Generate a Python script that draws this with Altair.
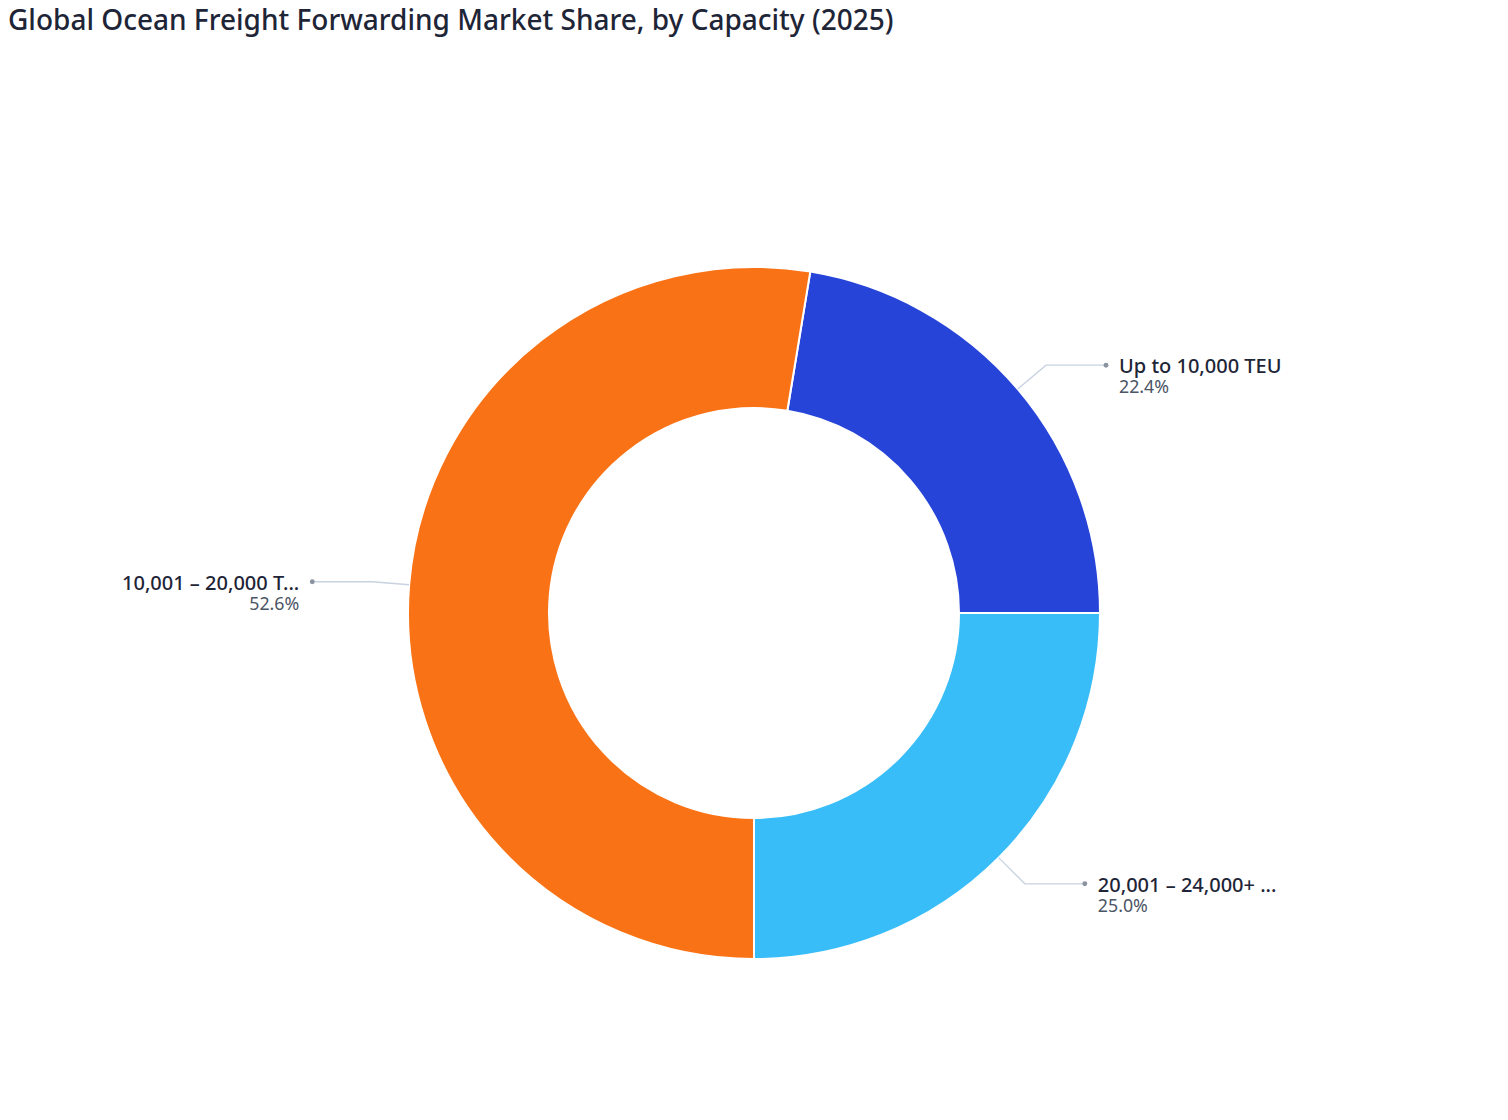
import math
import altair as alt
import numpy as np
import pandas as pd

# ---- data ----
categories = ["Up to 10,000 TEU", "10,001 – 20,000 TEU", "20,001 – 24,000+ TEU"]
shares = [22.4, 52.6, 25.0]
colors = ["#2744d9", "#f97316", "#38bdf8"]
clockwise_order = [3, 2, 1]  # drawing order clockwise starting at 3 o'clock
title_text = "Global Ocean Freight Forwarding Market Share, by Capacity (2025)"

# ---- geometry / style ----
FONT = "Noto Sans"
W, H = 1492, 1070
TITLE_H = 31
CY = 604 - TITLE_H          # plot-y of the donut centre
OUTER, INNER = 346, 205
ELBOW_R = 383
ARM = 60
TEXT_GAP = 13

df = pd.DataFrame({"category": categories, "share": shares, "ord": clockwise_order})
df["cx"] = 0.0
df["cy"] = 0.0
df["pct"] = [f"{s:.1f}%" for s in shares]

# mid-angles (clockwise from 12 o'clock), start at 90 deg
d = df.sort_values("ord")
start = d["share"].cumsum() - d["share"]
mid = np.radians(90 + 3.6 * (start + d["share"] / 2))
df.loc[d.index, "mid"] = mid.values
df["side"] = np.sign(np.sin(df["mid"]))

rows = []
for _, r in df.iterrows():
    ex, ey = OUTER * math.sin(r.mid), OUTER * math.cos(r.mid)
    bx, by = ELBOW_R * math.sin(r.mid), ELBOW_R * math.cos(r.mid)
    dx = bx + r.side * ARM
    rows += [
        {"category": r.category, "k": 0, "x": ex, "y": ey},
        {"category": r.category, "k": 1, "x": bx, "y": by},
        {"category": r.category, "k": 2, "x": dx, "y": by},
    ]
lines = pd.DataFrame(rows)
dots = lines[lines.k == 2].copy()
dots = dots.merge(df[["category", "side", "pct"]], on="category")
dots["tx"] = dots["x"] + dots["side"] * TEXT_GAP

xs = alt.Scale(domain=[-W / 2, W / 2])
ys = alt.Scale(domain=[-(H - CY), CY])
X = lambda f: alt.X(f, scale=xs, axis=None)
Y = lambda f: alt.Y(f, scale=ys, axis=None)

arcs = alt.Chart(df).mark_arc(radius=OUTER, radius2=INNER, stroke="white", strokeWidth=2).encode(
    theta=alt.Theta("share:Q", stack=True, scale=alt.Scale(range=[math.pi / 2, math.pi / 2 + 2 * math.pi])),
    order=alt.Order("ord:Q"),
    color=alt.Color("category:N", scale=alt.Scale(domain=categories, range=colors), legend=None),
    x=X("cx:Q"),
    y=Y("cy:Q"),
)

leader = alt.Chart(lines).mark_line(color="#c8d2e0", strokeWidth=1.3).encode(
    x=X("x:Q"), y=Y("y:Q"), detail="category:N", order="k:Q"
)

pts = alt.Chart(dots).mark_circle(color="#8b93a1", size=24, opacity=1).encode(x=X("x:Q"), y=Y("y:Q"))

def labels(side, align):
    base = alt.Chart(dots).transform_filter(alt.datum.side == side)
    name = base.mark_text(
        align=align, baseline="middle", font=FONT, fontSize=20, fontWeight=500,
        color="#1e2537", limit=183, ellipsis="...", dy=2,
    ).encode(x=X("tx:Q"), y=Y("y:Q"), text="category:N")
    pct = base.mark_text(
        align=align, baseline="middle", font=FONT, fontSize=17.8, color="#4b5565", dy=23,
    ).encode(x=X("tx:Q"), y=Y("y:Q"), text="pct:N")
    return name + pct

chart = alt.layer(arcs, leader, pts, labels(1, "left"), labels(-1, "right")).properties(
    width=W, height=H,
    padding=0,
    title=alt.TitleParams(
        title_text, anchor="start", font=FONT, fontSize=28, fontWeight=500,
        color="#1e2537", offset=4,
    ),
).configure_view(stroke=None)

chart.save("out.html", embed_options={"renderer": "svg", "actions": False})
